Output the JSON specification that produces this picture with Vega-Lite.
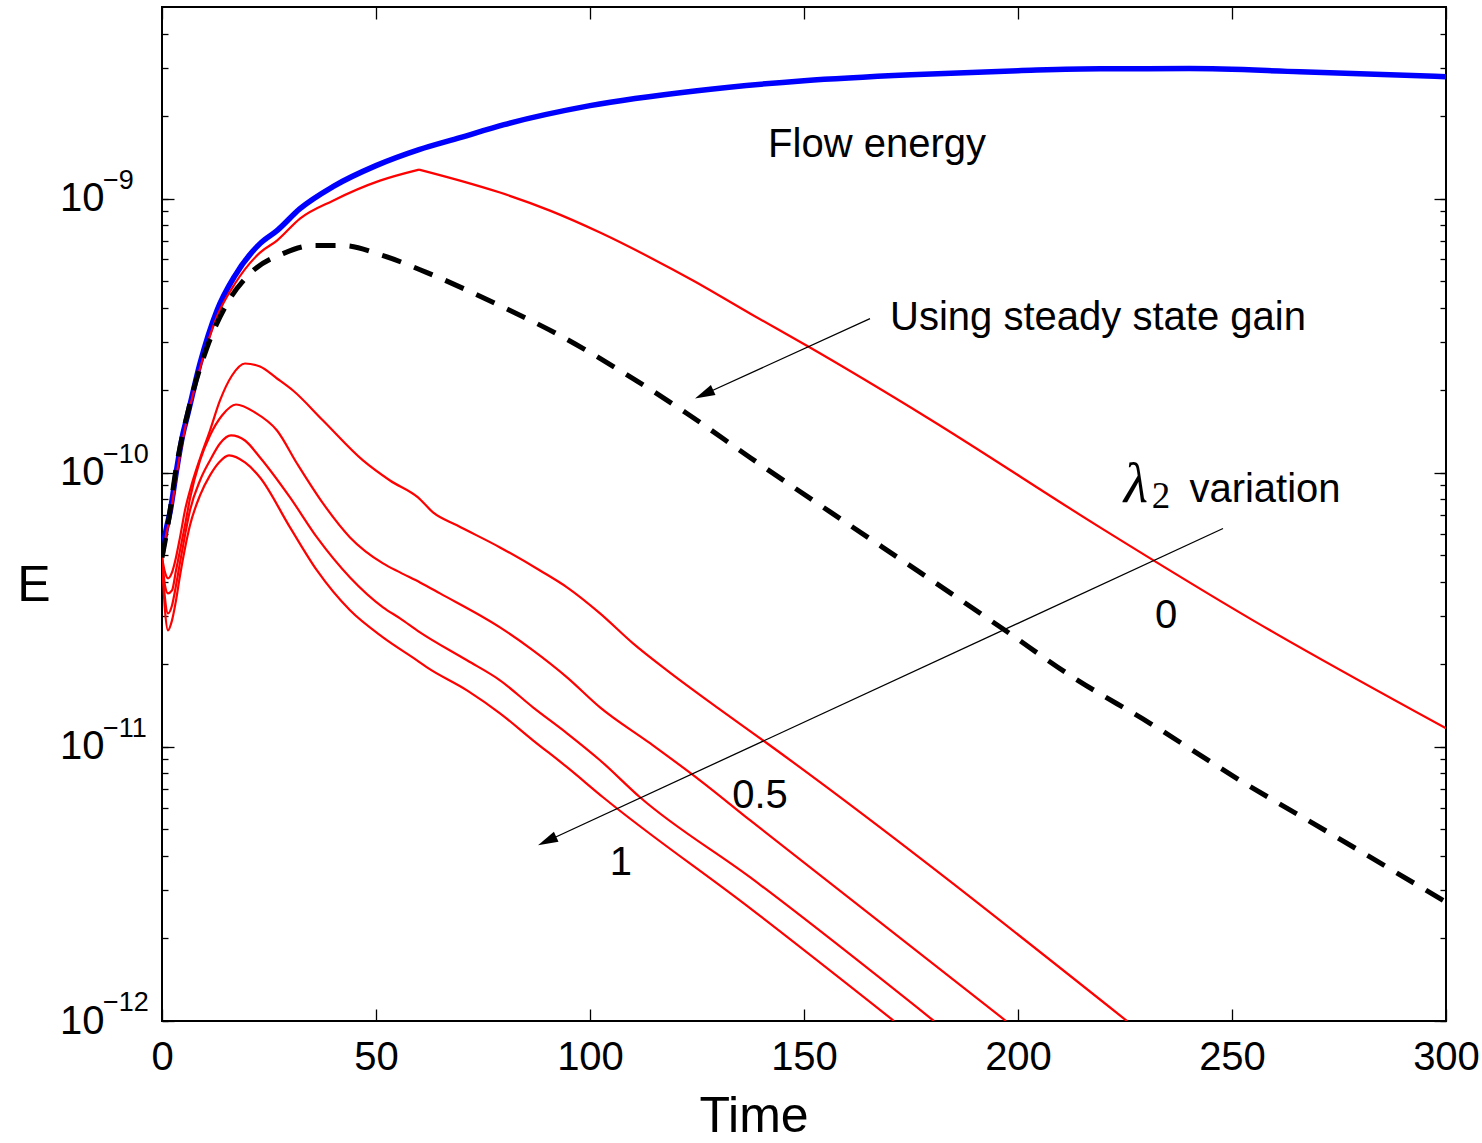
{
  "$schema": "https://vega.github.io/schema/vega-lite/v6.json",
  "width": 1284,
  "height": 1014,
  "autosize": "none",
  "padding": {"left": 162, "top": 7, "right": 36, "bottom": 122},
  "background": "white",
  "config": {
    "view": {"stroke": "black", "strokeWidth": 2},
    "font": "Liberation Sans",
    "axis": {"domain": false, "grid": false, "tickColor": "black", "tickWidth": 1.3, "labelFont": "Liberation Sans", "labelColor": "black", "titleFont": "Liberation Sans", "titleColor": "black", "titleFontWeight": "normal", "labelFontSize": 40, "titleFontSize": 50, "labelOverlap": false, "labelFlush": false, "labelBound": false}
  },
  "datasets": {
    "curves": [
      {"series":"flow","t":0,"E":5.0e-11},{"series":"flow","t":0.93,"E":6.16e-11},{"series":"flow","t":1.87,"E":7.17e-11},{"series":"flow","t":3.5,"E":1.045e-10},{"series":"flow","t":4.91,"E":1.391e-10},{"series":"flow","t":5.84,"E":1.591e-10},{"series":"flow","t":8.88,"E":2.503e-10},{"series":"flow","t":12.85,"E":3.906e-10},{"series":"flow","t":17.06,"E":5.24e-10},{"series":"flow","t":22.9,"E":6.85e-10},{"series":"flow","t":26.87,"E":7.64e-10},{"series":"flow","t":32.24,"E":9.19e-10},{"series":"flow","t":39.95,"E":1.106e-9},{"series":"flow","t":50,"E":1.319e-9},{"series":"flow","t":60.05,"E":1.509e-9},{"series":"flow","t":69.63,"E":1.669e-9},{"series":"flow","t":79.91,"E":1.861e-9},{"series":"flow","t":100,"E":2.183e-9},{"series":"flow","t":125,"E":2.476e-9},{"series":"flow","t":150,"E":2.693e-9},{"series":"flow","t":175,"E":2.832e-9},{"series":"flow","t":200,"E":2.928e-9},{"series":"flow","t":219.2,"E":2.978e-9},{"series":"flow","t":240,"E":2.98e-9},{"series":"flow","t":265.9,"E":2.904e-9},{"series":"flow","t":300,"E":2.785e-9},
      {"series":"r0a","t":0,"E":4.87e-11},{"series":"r0a","t":0.93,"E":5.91e-11},{"series":"r0a","t":1.87,"E":6.87e-11},{"series":"r0a","t":3.5,"E":1.0025e-10},{"series":"r0a","t":4.91,"E":1.334e-10},{"series":"r0a","t":8.88,"E":2.4e-10},{"series":"r0a","t":12.85,"E":3.714e-10},{"series":"r0a","t":17.06,"E":4.9e-10},{"series":"r0a","t":22.9,"E":6.355e-10},{"series":"r0a","t":26.87,"E":7.03e-10},{"series":"r0a","t":32.24,"E":8.455e-10},{"series":"r0a","t":39.95,"E":9.83e-10},{"series":"r0a","t":50.93,"E":1.163e-9},{"series":"r0a","t":60.05,"E":1.276e-9},
      {"series":"r0b","t":60.05,"E":1.276e-9},{"series":"r0b","t":69.63,"E":1.163e-9},{"series":"r0b","t":78.97,"E":1.052e-9},{"series":"r0b","t":90.65,"E":9.04e-10},{"series":"r0b","t":102.34,"E":7.52e-10},{"series":"r0b","t":114.02,"E":6.1e-10},{"series":"r0b","t":124.07,"E":5.025e-10},{"series":"r0b","t":137.38,"E":3.809e-10},{"series":"r0b","t":151.4,"E":2.862e-10},{"series":"r0b","t":178.74,"E":1.591e-10},{"series":"r0b","t":219.16,"E":6.32e-11},{"series":"r0b","t":254.91,"E":2.894e-11},{"series":"r0b","t":300,"E":1.169e-11},
      {"series":"rA","t":0,"E":4.91e-11},{"series":"rA","t":0.7,"E":4.33e-11},{"series":"rA","t":1.4,"E":4.12e-11},{"series":"rA","t":2.34,"E":4.33e-11},{"series":"rA","t":3.27,"E":4.91e-11},{"series":"rA","t":4.21,"E":5.81e-11},{"series":"rA","t":5.37,"E":7.29e-11},{"series":"rA","t":6.54,"E":8.62e-11},{"series":"rA","t":8.88,"E":1.127e-10},{"series":"rA","t":11.21,"E":1.426e-10},{"series":"rA","t":13.55,"E":1.835e-10},{"series":"rA","t":16.36,"E":2.263e-10},{"series":"rA","t":19.39,"E":2.503e-10},{"series":"rA","t":22.9,"E":2.44e-10},{"series":"rA","t":26.87,"E":2.207e-10},{"series":"rA","t":30.61,"E":1.995e-10},{"series":"rA","t":37.62,"E":1.551e-10},{"series":"rA","t":46.96,"E":1.109e-10},{"series":"rA","t":53.27,"E":9.37e-11},{"series":"rA","t":59.81,"E":8.13e-11},{"series":"rA","t":63.32,"E":7.17e-11},{"series":"rA","t":68.93,"E":6.43e-11},{"series":"rA","t":78.97,"E":5.34e-11},{"series":"rA","t":88.32,"E":4.4e-11},{"series":"rA","t":94.63,"E":3.82e-11},{"series":"rA","t":102.34,"E":3.07e-11},{"series":"rA","t":110.05,"E":2.386e-11},{"series":"rA","t":117.99,"E":1.902e-11},{"series":"rA","t":129.67,"E":1.394e-11},{"series":"rA","t":141.36,"E":1.031e-11},{"series":"rA","t":225.47,"E":1e-12},
      {"series":"rB","t":0,"E":4.91e-11},{"series":"rB","t":0.7,"E":3.88e-11},{"series":"rB","t":1.4,"E":3.63e-11},{"series":"rB","t":2.34,"E":3.72e-11},{"series":"rB","t":3.27,"E":4.4e-11},{"series":"rB","t":4.21,"E":5.21e-11},{"series":"rB","t":5.37,"E":6.43e-11},{"series":"rB","t":6.54,"E":8.06e-11},{"series":"rB","t":8.88,"E":1.109e-10},{"series":"rB","t":11.21,"E":1.368e-10},{"series":"rB","t":14.02,"E":1.618e-10},{"series":"rB","t":17.29,"E":1.774e-10},{"series":"rB","t":21.73,"E":1.659e-10},{"series":"rB","t":26.87,"E":1.426e-10},{"series":"rB","t":31.54,"E":1.081e-10},{"series":"rB","t":37.62,"E":7.73e-11},{"series":"rB","t":43.93,"E":5.81e-11},{"series":"rB","t":51.64,"E":4.67e-11},{"series":"rB","t":55.61,"E":4.33e-11},{"series":"rB","t":60.28,"E":3.98e-11},{"series":"rB","t":64.95,"E":3.63e-11},{"series":"rB","t":78.97,"E":2.729e-11},{"series":"rB","t":86.68,"E":2.25e-11},{"series":"rB","t":94.63,"E":1.794e-11},{"series":"rB","t":102.34,"E":1.394e-11},{"series":"rB","t":114.02,"E":1.031e-11},{"series":"rB","t":125.7,"E":7.55e-12},{"series":"rB","t":137.38,"E":5.4e-12},{"series":"rB","t":197.2,"E":1e-12},
      {"series":"rC","t":0,"E":4.91e-11},{"series":"rC","t":0.7,"E":3.48e-11},{"series":"rC","t":1.4,"E":3.07e-11},{"series":"rC","t":2.34,"E":3.28e-11},{"series":"rC","t":3.27,"E":3.88e-11},{"series":"rC","t":4.21,"E":4.71e-11},{"series":"rC","t":5.37,"E":5.91e-11},{"series":"rC","t":6.54,"E":7.29e-11},{"series":"rC","t":8.88,"E":9.37e-11},{"series":"rC","t":11.21,"E":1.109e-10},{"series":"rC","t":13.55,"E":1.279e-10},{"series":"rC","t":16.12,"E":1.368e-10},{"series":"rC","t":19.39,"E":1.311e-10},{"series":"rC","t":22.9,"E":1.137e-10},{"series":"rC","t":29.91,"E":8.13e-11},{"series":"rC","t":36.21,"E":5.81e-11},{"series":"rC","t":43.93,"E":4.15e-11},{"series":"rC","t":51.64,"E":3.23e-11},{"series":"rC","t":55.61,"E":2.943e-11},{"series":"rC","t":60.28,"E":2.617e-11},{"series":"rC","t":71.26,"E":2.069e-11},{"series":"rC","t":78.97,"E":1.749e-11},{"series":"rC","t":86.68,"E":1.394e-11},{"series":"rC","t":94.63,"E":1.121e-11},{"series":"rC","t":102.34,"E":8.94e-12},{"series":"rC","t":111.68,"E":6.55e-12},{"series":"rC","t":137.38,"E":3.346e-12},{"series":"rC","t":180.37,"E":1e-12},
      {"series":"rD","t":0,"E":4.91e-11},{"series":"rD","t":0.7,"E":3.148e-11},{"series":"rD","t":1.4,"E":2.662e-11},{"series":"rD","t":2.34,"E":2.894e-11},{"series":"rD","t":3.27,"E":3.42e-11},{"series":"rD","t":4.21,"E":4.22e-11},{"series":"rD","t":5.37,"E":5.3e-11},{"series":"rD","t":6.54,"E":6.43e-11},{"series":"rD","t":8.88,"E":8.27e-11},{"series":"rD","t":11.21,"E":9.78e-11},{"series":"rD","t":13.32,"E":1.09e-10},{"series":"rD","t":15.65,"E":1.157e-10},{"series":"rD","t":19.39,"E":1.09e-10},{"series":"rD","t":22.9,"E":9.61e-11},{"series":"rD","t":29.91,"E":6.32e-11},{"series":"rD","t":36.21,"E":4.4e-11},{"series":"rD","t":43.93,"E":3.148e-11},{"series":"rD","t":51.64,"E":2.509e-11},{"series":"rD","t":59.58,"E":2.069e-11},{"series":"rD","t":61.92,"E":1.951e-11},{"series":"rD","t":71.26,"E":1.608e-11},{"series":"rD","t":78.97,"E":1.326e-11},{"series":"rD","t":86.68,"E":1.057e-11},{"series":"rD","t":94.63,"E":8.43e-12},{"series":"rD","t":103.04,"E":6.55e-12},{"series":"rD","t":137.38,"E":2.58e-12},{"series":"rD","t":171.03,"E":1e-12},
      {"series":"ss","t":0,"E":4.91e-11},{"series":"ss","t":1.17,"E":6.16e-11},{"series":"ss","t":3.5,"E":1.081e-10},{"series":"ss","t":6.54,"E":1.789e-10},{"series":"ss","t":10.51,"E":2.862e-10},{"series":"ss","t":15.19,"E":4.14e-10},{"series":"ss","t":20.56,"E":5.33e-10},{"series":"ss","t":28.27,"E":6.3e-10},{"series":"ss","t":35.28,"E":6.74e-10},{"series":"ss","t":42.29,"E":6.74e-10},{"series":"ss","t":51.64,"E":6.2e-10},{"series":"ss","t":61.92,"E":5.37e-10},{"series":"ss","t":78.97,"E":4.07e-10},{"series":"ss","t":92.99,"E":3.166e-10},{"series":"ss","t":107.01,"E":2.36e-10},{"series":"ss","t":122.66,"E":1.645e-10},{"series":"ss","t":137.38,"E":1.137e-10},{"series":"ss","t":160.75,"E":6.43e-11},{"series":"ss","t":177.1,"E":4.33e-11},{"series":"ss","t":196.96,"E":2.662e-11},{"series":"ss","t":212.15,"E":1.824e-11},{"series":"ss","t":230.84,"E":1.219e-11},{"series":"ss","t":251.87,"E":7.55e-12},{"series":"ss","t":272.9,"E":4.84e-12},{"series":"ss","t":300,"E":2.714e-12}
    ],
    "notes": [
      {"label":"Flow energy","t":167.06,"E":1.422e-9},
      {"label":"Using steady state gain","t":218.69,"E":3.33e-10},
      {"label":"variation","t":257.71,"E":7.79e-11},
      {"label":"0","t":234.58,"E":2.706e-11},
      {"label":"0.5","t":139.72,"E":5.97e-12},
      {"label":"1","t":107.24,"E":3.4e-12}
    ],
    "lambda": [{"label":"λ","t":227.57,"E":7.79e-11}],
    "sub": [{"label":"2","t":233.41,"E":7.41e-11}],
    "arrows": [
      {"t":165.42,"E":3.65e-10,"t2":126.66,"E2":1.933e-10},
      {"t":247.9,"E":6.26e-11,"t2":89.98,"E2":4.535e-12}
    ],
    "heads": [
      {"t":126.66,"E":1.933e-10},
      {"t":89.98,"E":4.535e-12}
    ],
    "exps": [
      {"E":1e-9,"exp":"−9"},{"E":1e-10,"exp":"−10"},{"E":1e-11,"exp":"−11"},{"E":1e-12,"exp":"−12"}
    ]
  },
  "resolve": {"axis": {"x": "independent", "y": "independent"}},
  "layer": [
    {
      "data": {"name": "curves"},
      "transform": [{"filter": "datum.series === 'flow'"}],
      "mark": {"type": "line", "color": "#0000ff", "strokeWidth": 5.5, "interpolate": "monotone", "clip": true},
      "encoding": {
        "x": {"field": "t", "type": "quantitative", "scale": {"domain": [0, 300], "nice": false, "zero": false},
          "axis": {"orient": "bottom", "values": [0, 50, 100, 150, 200, 250, 300], "tickSize": -12, "labelPadding": 28, "labelAngle": 0, "title": "Time", "titleX": 591.5, "titleY": 110, "titleBaseline": "alphabetic", "titleAlign": "center"}},
        "y": {"field": "E", "type": "quantitative", "scale": {"type": "log", "domain": [1e-12, 5e-9], "nice": false},
          "axis": {"orient": "left", "values": [1e-12,2e-12,3e-12,4e-12,5e-12,6e-12,7e-12,8e-12,9e-12,1e-11,2e-11,3e-11,4e-11,5e-11,6e-11,7e-11,8e-11,9e-11,1e-10,2e-10,3e-10,4e-10,5e-10,6e-10,7e-10,8e-10,9e-10,1e-9,2e-9,3e-9,4e-9], "tickSize": -6, "labelPadding": 64, "labelExpr": "abs(log(datum.value)/LN10 - round(log(datum.value)/LN10)) < 0.001 ? '10' : ''", "title": "E", "titleAngle": 0, "titleX": -128.5, "titleY": 593, "titleBaseline": "alphabetic", "titleAlign": "center"}}
      }
    },
    {
      "data": {"name": "curves"},
      "transform": [{"filter": "datum.series !== 'flow' && datum.series !== 'ss'"}],
      "mark": {"type": "line", "color": "#ff0000", "strokeWidth": 2.2, "interpolate": "monotone", "clip": true},
      "encoding": {
        "x": {"field": "t", "type": "quantitative", "axis": null},
        "y": {"field": "E", "type": "quantitative", "axis": {"orient": "left", "values": [1e-12, 1e-11, 1e-10, 1e-9], "tickSize": -12, "labels": false, "title": null}},
        "detail": {"field": "series"}
      }
    },
    {
      "data": {"name": "curves"},
      "transform": [{"filter": "datum.series === 'ss'"}],
      "mark": {"type": "line", "color": "black", "strokeWidth": 5, "strokeDash": [20, 14], "strokeCap": "butt", "interpolate": "monotone", "clip": true},
      "encoding": {
        "x": {"field": "t", "type": "quantitative", "axis": {"orient": "top", "values": [0, 50, 100, 150, 200, 250, 300], "tickSize": -12, "labels": false, "title": null}},
        "y": {"field": "E", "type": "quantitative", "axis": {"orient": "right", "values": [1e-12,2e-12,3e-12,4e-12,5e-12,6e-12,7e-12,8e-12,9e-12,1e-11,2e-11,3e-11,4e-11,5e-11,6e-11,7e-11,8e-11,9e-11,1e-10,2e-10,3e-10,4e-10,5e-10,6e-10,7e-10,8e-10,9e-10,1e-9,2e-9,3e-9,4e-9], "tickSize": -6, "labels": false, "title": null}}
      }
    },
    {
      "data": {"name": "notes"},
      "mark": {"type": "text", "fontSize": 40, "font": "Liberation Sans", "align": "center", "baseline": "alphabetic", "color": "black"},
      "encoding": {
        "x": {"field": "t", "type": "quantitative", "axis": null},
        "y": {"field": "E", "type": "quantitative", "axis": {"orient": "right", "values": [1e-12, 1e-11, 1e-10, 1e-9], "tickSize": -12, "labels": false, "title": null}},
        "text": {"field": "label"}
      }
    },
    {
      "data": {"name": "lambda"},
      "mark": {"type": "text", "fontSize": 56, "font": "Liberation Serif", "fontStyle": "italic", "align": "center", "baseline": "alphabetic", "color": "black"},
      "encoding": {
        "x": {"field": "t", "type": "quantitative", "axis": null},
        "y": {"field": "E", "type": "quantitative", "axis": null},
        "text": {"field": "label"}
      }
    },
    {
      "data": {"name": "sub"},
      "mark": {"type": "text", "fontSize": 37, "font": "Liberation Serif", "align": "center", "baseline": "alphabetic", "color": "black"},
      "encoding": {
        "x": {"field": "t", "type": "quantitative", "axis": null},
        "y": {"field": "E", "type": "quantitative", "axis": null},
        "text": {"field": "label"}
      }
    },
    {
      "data": {"name": "arrows"},
      "mark": {"type": "rule", "color": "black", "strokeWidth": 1.3},
      "encoding": {
        "x": {"field": "t", "type": "quantitative", "axis": null},
        "y": {"field": "E", "type": "quantitative", "axis": null},
        "x2": {"field": "t2"},
        "y2": {"field": "E2"}
      }
    },
    {
      "data": {"name": "heads"},
      "mark": {"type": "point", "shape": "M0,-1L0.55,1L-0.55,1Z", "filled": true, "size": 400, "angle": 245.3, "color": "black", "opacity": 1, "strokeWidth": 0},
      "encoding": {
        "x": {"field": "t", "type": "quantitative", "axis": null},
        "y": {"field": "E", "type": "quantitative", "axis": null}
      }
    },
    {
      "data": {"name": "exps"},
      "mark": {"type": "text", "fontSize": 27, "font": "Liberation Sans", "align": "left", "baseline": "alphabetic", "dx": -59, "dy": -10, "color": "black"},
      "encoding": {
        "x": {"datum": 0, "type": "quantitative", "axis": null},
        "y": {"field": "E", "type": "quantitative", "axis": null},
        "text": {"field": "exp"}
      }
    }
  ]
}
